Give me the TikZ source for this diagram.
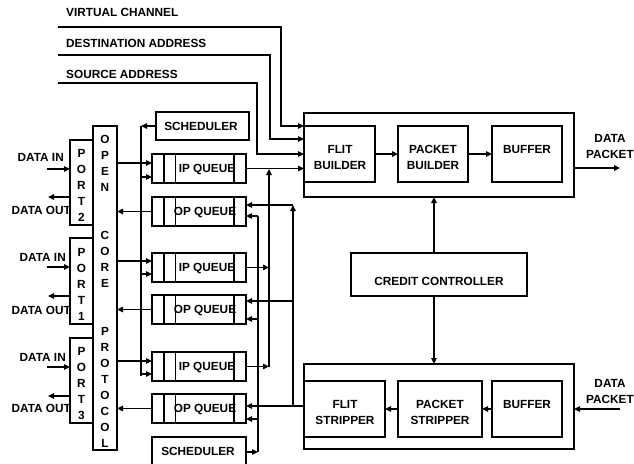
\documentclass[tikz,border=0pt]{standalone}
\usepackage{fontspec}
\setmainfont{Liberation Sans}
\usetikzlibrary{arrows.meta}
\newcommand\lbl{\fontsize{11.8}{16}\selectfont\bfseries}
\begin{document}
\begin{tikzpicture}[x=1pt,y=-1pt,
  blk/.style={draw, line width=1.35pt, inner sep=0pt, outer sep=0pt, anchor=north west},
  txt/.style={font=\lbl, inner sep=0pt, text height=8.45pt, text depth=0pt},
  txtml/.style={font=\lbl, inner sep=0pt, align=center},
  ln/.style={line width=1.35pt},
  arr/.style={line width=1.35pt, -{Triangle[length=6pt,width=5.5pt]}}]
\useasboundingbox (0,0) rectangle (634,463);
\clip (0,0) rectangle (634,463);

% ---- header signals ----
\node[txt, anchor=west] (vcL) at (66,12) {VIRTUAL CHANNEL};
\node[txt, anchor=west] (daL) at (66,43) {DESTINATION ADDRESS};
\node[txt, anchor=west] (saL) at (66,74) {SOURCE ADDRESS};
\coordinate (vcS) at (58,27);
\coordinate (daS) at (58,55);
\coordinate (saS) at (58,83);

% ---- transmit side ----
\node[blk, minimum width=270pt, minimum height=84pt] (tx) at (304,113) {};
\node[blk, minimum width=71pt, minimum height=56pt] (fb) at (304,126) {};
\node[blk, minimum width=70pt, minimum height=56pt] (pb) at (398,126) {};
\node[blk, minimum width=70pt, minimum height=56pt] (tb) at (492,126) {};
\node[txtml] (fbT) at (340,157) {FLIT\\BUILDER};
\node[txtml] (pbT) at (433,157) {PACKET\\BUILDER};
\node[txt] (tbT) at (527,149) {BUFFER};
\node[txtml] (dpoT) at (610,146) {DATA\\PACKET};
\coordinate (dpo) at (620,168);

% ---- credit controller ----
\node[blk, minimum width=176pt, minimum height=43pt] (cc) at (351,253) {};
\node[txt] (ccT) at (439,281) {CREDIT CONTROLLER};

% ---- receive side ----
\node[blk, minimum width=270pt, minimum height=85pt] (rx) at (304,364) {};
\node[blk, minimum width=81pt, minimum height=56pt] (fs) at (304,381) {};
\node[blk, minimum width=84pt, minimum height=56pt] (ps) at (398,381) {};
\node[blk, minimum width=70pt, minimum height=56pt] (rb) at (492,381) {};
\node[txtml] (fsT) at (345,412) {FLIT\\STRIPPER};
\node[txtml] (psT) at (440,412) {PACKET\\STRIPPER};
\node[txt] (rbT) at (527,404) {BUFFER};
\node[txtml] (dpiT) at (610,391) {DATA\\PACKET};
\coordinate (dpi) at (620,409);

% ---- schedulers and queues ----
\node[blk, minimum width=93pt, minimum height=28pt] (sch1) at (156,112) {};
\node[txt] (sch1T) at (201,126) {SCHEDULER};
\node[blk, minimum width=94pt, minimum height=32pt] (sch2) at (152,437) {};
\node[txt] (sch2T) at (198,451) {SCHEDULER};

\node[blk, minimum width=94pt, minimum height=29pt] (ip1) at (152,154) {};
\node[blk, minimum width=94pt, minimum height=29pt] (op1) at (152,197) {};
\node[blk, minimum width=94pt, minimum height=29pt] (ip2) at (152,253) {};
\node[blk, minimum width=94pt, minimum height=29pt] (op2) at (152,295) {};
\node[blk, minimum width=94pt, minimum height=29pt] (ip3) at (152,352) {};
\node[blk, minimum width=94pt, minimum height=29pt] (op3) at (152,394) {};
\foreach \q in {ip1,op1,ip2,op2,ip3,op3}
  \foreach \d in {12,23.5,82}
    \draw[ln] ([xshift=\d pt]\q.north west) -- ([xshift=\d pt]\q.south west);
\node[txt] (ip1T) at (207,168.5) {IP QUEUE};
\node[txt] (op1T) at (205,211.5) {OP QUEUE};
\node[txt] (ip2T) at (207,267.5) {IP QUEUE};
\node[txt] (op2T) at (205,309.5) {OP QUEUE};
\node[txt] (ip3T) at (207,366.5) {IP QUEUE};
\node[txt] (op3T) at (205,408.5) {OP QUEUE};

% ---- open core protocol column ----
\node[blk, minimum width=24pt, minimum height=324pt] (ocp) at (93,126) {};
\foreach \ch [count=\i from 0] in {O,P,E,N}
  \node[txt] (ocpA\i) at (105,{139+16*\i}) {\ch};
\foreach \ch [count=\i from 0] in {C,O,R,E}
  \node[txt] (ocpB\i) at (105,{235+16*\i}) {\ch};
\foreach \ch [count=\i from 0] in {P,R,O,T,O,C,O,L}
  \node[txt] (ocpC\i) at (105,{331+16*\i}) {\ch};

% ---- ports ----
\node[blk, minimum width=23pt, minimum height=85pt] (p2) at (70,140) {};
\node[blk, minimum width=23pt, minimum height=86pt] (p1) at (70,238) {};
\node[blk, minimum width=23pt, minimum height=85pt] (p3) at (70,338) {};
\foreach \ch [count=\i from 0] in {P,O,R,T,2}
  \node[txt] (p2L\i) at (81.5,{153+16*\i}) {\ch};
\foreach \ch [count=\i from 0] in {P,O,R,T,1}
  \node[txt] (p1L\i) at (81.5,{252+16*\i}) {\ch};
\foreach \ch [count=\i from 0] in {P,O,R,T,3}
  \node[txt] (p3L\i) at (81.5,{351+16*\i}) {\ch};

\node[txt, anchor=east] (in2) at (64,157) {DATA IN};
\node[txt, anchor=east] (out2) at (71,210) {DATA OUT};
\node[txt, anchor=east] (in1) at (66,257) {DATA IN};
\node[txt, anchor=east] (out1) at (71,310) {DATA OUT};
\node[txt, anchor=east] (in3) at (66,357) {DATA IN};
\node[txt, anchor=east] (out3) at (71,408) {DATA OUT};

\coordinate (in2S) at (47,169);  \coordinate (out2E) at (48,197);
\coordinate (in1S) at (47,267);  \coordinate (out1E) at (48,296);
\coordinate (in3S) at (47,367);  \coordinate (out3E) at (48,396);
\draw[arr] (in2S) -- (in2S -| p2.west);
\draw[arr] (out2E -| p2.west) -- (out2E);
\draw[arr] (in1S) -- (in1S -| p1.west);
\draw[arr] (out1E -| p1.west) -- (out1E);
\draw[arr] (in3S) -- (in3S -| p3.west);
\draw[arr] (out3E -| p3.west) -- (out3E);

% ---- header signals into the flit builder ----
\draw[arr] (vcS) -- (281,27) -- (281,126) -- (tx.west |- 0,126);
\draw[arr] (daS) -- (270,55) -- (270,139) -- (tx.west |- 0,139);
\draw[arr] (saS) -- (257,83) -- (257,154) -- (tx.west |- 0,154);
\draw[arr] (ip1.east) -- (ip1.east -| tx.west);

% ---- transmit chain ----
\draw[arr] (fb.east) -- (pb.west);
\draw[arr] (pb.east) -- (tb.west);
\draw[arr] (tx.east |- dpo) -- (dpo);

% ---- credit controller links ----
\draw[arr] ([xshift=-5pt]cc.north) -- ([xshift=-5pt]cc.north |- tx.south);
\draw[arr] ([xshift=-5pt]cc.south) -- ([xshift=-5pt]cc.south |- rx.north);

% ---- receive chain ----
\draw[arr] (dpi) -- (dpi -| rx.east);
\draw[arr] (rb.west) -- (ps.east);
\draw[arr] (ps.west) -- (fs.east);

% ---- stripper output bus to OP queues ----
\coordinate (busR) at (293,406);
\draw[arr] (rx.west |- busR) -- (op3.east |- busR);
\draw[arr] (busR) -- (293,205);
\draw[arr] (293,205) -- (op1.east |- 0,205);
\draw[arr] (293,301) -- (op2.east |- 0,301);

% ---- IP queue merge bus ----
\draw[arr] (269,366.5) -- (269,169);
\draw[arr] (ip2.east) -- (269,267.5);
\draw[arr] (ip3.east) -- (269,366.5);

% ---- lower scheduler bus ----
\draw[arr] (sch2.east |- 0,452) -- (258,452);
\draw[ln] (258,452) -- (258,216);
\draw[arr] (258,216) -- (op1.east |- 0,216);
\draw[arr] (258,319) -- (op2.east |- 0,319);
\draw[arr] (258,419) -- (op3.east |- 0,419);

% ---- upper scheduler bus ----
\draw[arr] (sch1.west) -- (141,126);
\draw[ln] (141,126) -- (141,376);
\draw[arr] (141,177) -- (ip1.west |- 0,177);
\draw[arr] (141,274) -- (ip2.west |- 0,274);
\draw[arr] (141,374) -- (ip3.west |- 0,374);

% ---- protocol to IP queues, OP queues to protocol ----
\draw[arr] (ocp.east |- 0,163) -- (ip1.west |- 0,163);
\draw[arr] (ocp.east |- 0,261) -- (ip2.west |- 0,261);
\draw[arr] (ocp.east |- 0,361) -- (ip3.west |- 0,361);
\draw[arr] (op1.west) -- (op1.west -| ocp.east);
\draw[arr] (op2.west) -- (op2.west -| ocp.east);
\draw[arr] (op3.west) -- (op3.west -| ocp.east);
\end{tikzpicture}
\end{document}
